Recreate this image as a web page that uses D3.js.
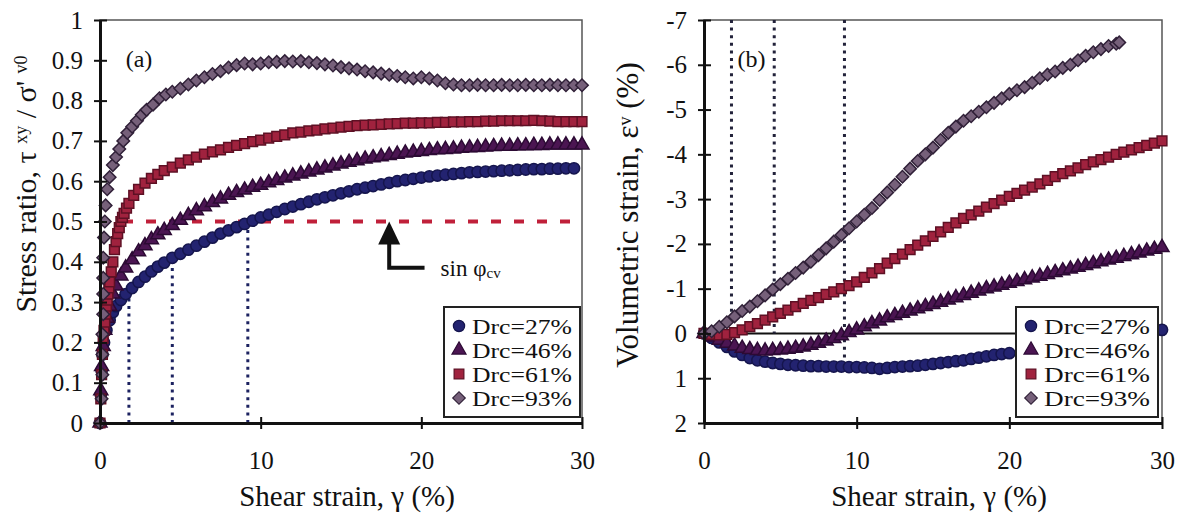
<!DOCTYPE html>
<html>
<head>
<meta charset="utf-8">
<script src="https://cdn.jsdelivr.net/npm/d3@7"></script>
<style>
body { margin: 0; background: #fff; }
text { font-family: "Liberation Serif", "DejaVu Serif", serif; fill: #111; }
</style>
</head>
<body>
<svg id="mainSvg" width="1183" height="513"></svg>
<script>
// ---- data ----
var legendNames = ["Drc=27%", "Drc=46%", "Drc=61%", "Drc=93%"];
var xTicks = [0, 10, 20, 30];
var stressTicks = [0, 0.1, 0.2, 0.3, 0.4, 0.5, 0.6, 0.7, 0.8, 0.9, 1];
var volTicks = [-7, -6, -5, -4, -3, -2, -1, 0, 1, 2];

// (a) stress ratio vs shear strain
var stress27 = [[0,0],[0.05,0.07],[0.1,0.13],[0.15,0.17],[0.25,0.2],[0.4,0.23],[0.6,0.255],[0.8,0.275],[1,0.29],[1.3,0.305],[1.6,0.32],[2,0.335],[2.4,0.35],[2.8,0.363],[3.2,0.376],[3.6,0.388],[4,0.398],[4.5,0.41],[5,0.42],[5.5,0.43],[6,0.44],[6.5,0.45],[7,0.46],[7.5,0.47],[8,0.478],[8.5,0.486],[9,0.494],[9.5,0.502],[10,0.51],[10.5,0.517],[11,0.524],[11.5,0.531],[12,0.537],[12.5,0.543],[13,0.549],[13.5,0.555],[14,0.56],[14.5,0.565],[15,0.57],[15.5,0.575],[16,0.58],[16.5,0.584],[17,0.588],[17.5,0.592],[18,0.596],[18.5,0.6],[19,0.603],[19.5,0.606],[20,0.609],[20.5,0.612],[21,0.614],[21.5,0.616],[22,0.618],[22.5,0.62],[23,0.622],[23.5,0.623],[24,0.624],[24.5,0.625],[25,0.626],[25.5,0.627],[26,0.628],[26.5,0.629],[27,0.63],[27.5,0.63],[28,0.631],[28.5,0.631],[29,0.632],[29.5,0.632]];
var stress46 = [[0,0],[0.05,0.08],[0.1,0.14],[0.2,0.19],[0.3,0.23],[0.45,0.26],[0.6,0.29],[0.8,0.32],[1,0.34],[1.3,0.365],[1.6,0.385],[2,0.405],[2.4,0.425],[2.8,0.44],[3.2,0.455],[3.6,0.467],[4,0.478],[4.5,0.49],[5,0.503],[5.5,0.515],[6,0.527],[6.5,0.537],[7,0.547],[7.5,0.556],[8,0.565],[8.5,0.572],[9,0.578],[9.5,0.585],[10,0.59],[10.5,0.596],[11,0.602],[11.5,0.608],[12,0.613],[12.5,0.618],[13,0.623],[13.5,0.628],[14,0.633],[14.5,0.638],[15,0.643],[15.5,0.647],[16,0.651],[16.5,0.655],[17,0.658],[17.5,0.661],[18,0.664],[18.5,0.667],[19,0.67],[19.5,0.672],[20,0.674],[20.5,0.676],[21,0.678],[21.5,0.679],[22,0.68],[22.5,0.682],[23,0.683],[23.5,0.684],[24,0.685],[24.5,0.686],[25,0.687],[25.5,0.687],[26,0.688],[26.5,0.688],[27,0.689],[27.5,0.689],[28,0.69],[28.5,0.69],[29,0.69],[29.5,0.69],[30,0.69]];
var stress61 = [[0,0],[0.05,0.06],[0.1,0.12],[0.15,0.17],[0.2,0.21],[0.25,0.23],[0.3,0.25],[0.35,0.27],[0.4,0.29],[0.45,0.305],[0.5,0.32],[0.55,0.335],[0.6,0.35],[0.7,0.375],[0.8,0.4],[0.9,0.43],[1,0.45],[1.1,0.47],[1.2,0.485],[1.3,0.5],[1.4,0.51],[1.5,0.52],[1.65,0.533],[1.8,0.545],[2.1,0.565],[2.4,0.58],[2.8,0.595],[3.2,0.607],[3.6,0.617],[4,0.626],[4.5,0.635],[5,0.645],[5.5,0.653],[6,0.66],[6.5,0.667],[7,0.673],[7.5,0.678],[8,0.684],[8.5,0.689],[9,0.693],[9.5,0.698],[10,0.702],[10.5,0.707],[11,0.711],[11.5,0.715],[12,0.72],[12.5,0.722],[13,0.725],[13.5,0.727],[14,0.73],[14.5,0.732],[15,0.734],[15.5,0.736],[16,0.738],[16.5,0.739],[17,0.74],[17.5,0.741],[18,0.742],[18.5,0.743],[19,0.744],[19.5,0.744],[20,0.745],[20.5,0.745],[21,0.746],[21.5,0.746],[22,0.747],[22.5,0.747],[23,0.748],[23.5,0.748],[24,0.749],[24.5,0.749],[25,0.75],[25.5,0.75],[26,0.75],[26.5,0.75],[27,0.751],[27.5,0.75],[28,0.749],[28.5,0.748],[29,0.748],[29.5,0.748],[30,0.748]];
var stress93 = [[0,0],[0.1,0.06],[0.15,0.12],[0.15,0.17],[0.15,0.22],[0.2,0.27],[0.2,0.32],[0.2,0.36],[0.2,0.41],[0.25,0.46],[0.3,0.5],[0.35,0.54],[0.45,0.58],[0.6,0.61],[0.8,0.64],[1,0.66],[1.2,0.68],[1.45,0.7],[1.7,0.72],[2,0.735],[2.3,0.75],[2.6,0.765],[2.9,0.777],[3.3,0.79],[3.7,0.806],[4.1,0.815],[4.5,0.822],[5,0.83],[5.5,0.84],[6,0.85],[6.5,0.858],[7,0.866],[7.5,0.873],[8,0.882],[8.5,0.888],[9,0.892],[9.5,0.89],[10,0.892],[10.5,0.895],[11,0.896],[11.5,0.898],[12,0.897],[12.5,0.898],[13,0.895],[13.5,0.893],[14,0.89],[14.5,0.887],[15,0.883],[15.5,0.88],[16,0.877],[16.5,0.873],[17,0.87],[17.5,0.867],[18,0.864],[18.5,0.861],[19,0.858],[19.5,0.855],[20,0.858],[20.5,0.855],[21,0.85],[21.5,0.843],[22,0.84],[22.5,0.838],[23,0.838],[23.5,0.839],[24,0.838],[24.5,0.838],[25,0.839],[25.5,0.838],[26,0.838],[26.5,0.839],[27,0.838],[27.5,0.838],[28,0.839],[28.5,0.838],[29,0.838],[29.5,0.838],[30,0.838]];

// (b) volumetric strain vs shear strain
var vol27 = [[0,0],[0.5,0.1],[1,0.2],[1.5,0.3],[2,0.4],[2.5,0.48],[3,0.55],[3.5,0.6],[4,0.63],[4.5,0.66],[5,0.68],[5.5,0.7],[6,0.71],[6.5,0.72],[7,0.73],[7.5,0.73],[8,0.74],[8.5,0.74],[9,0.74],[9.5,0.75],[10,0.75],[10.5,0.76],[11,0.77],[11.5,0.79],[12,0.77],[12.5,0.75],[13,0.74],[13.5,0.73],[14,0.72],[14.5,0.7],[15,0.68],[15.5,0.66],[16,0.64],[16.5,0.62],[17,0.6],[17.5,0.57],[18,0.54],[18.5,0.51],[19,0.48],[19.5,0.46],[20,0.44],[21,0.4],[22,0.36],[23,0.32],[24,0.28],[25,0.24],[26,0.2],[27,0.15],[28,0.1],[29,0.02],[30,-0.08]];
var vol46 = [[0,0],[0.5,0.08],[1,0.15],[1.5,0.22],[2,0.28],[2.5,0.33],[3,0.36],[3.5,0.38],[4,0.39],[4.5,0.38],[5,0.37],[5.5,0.35],[6,0.33],[6.5,0.3],[7,0.26],[7.5,0.22],[8,0.17],[8.5,0.11],[9,0.05],[9.5,-0.02],[10,-0.08],[10.5,-0.15],[11,-0.22],[11.5,-0.28],[12,-0.35],[12.5,-0.4],[13,-0.45],[13.5,-0.5],[14,-0.55],[14.5,-0.6],[15,-0.65],[15.5,-0.7],[16,-0.75],[16.5,-0.8],[17,-0.85],[17.5,-0.9],[18,-0.95],[18.5,-1],[19,-1.04],[19.5,-1.08],[20,-1.12],[20.5,-1.16],[21,-1.2],[21.5,-1.24],[22,-1.28],[22.5,-1.32],[23,-1.36],[23.5,-1.4],[24,-1.44],[24.5,-1.48],[25,-1.52],[25.5,-1.56],[26,-1.6],[26.5,-1.64],[27,-1.68],[27.5,-1.72],[28,-1.76],[28.5,-1.8],[29,-1.84],[29.5,-1.88],[30,-1.92]];
var vol61 = [[0,0],[0.5,0.02],[1,0.03],[1.5,0.02],[2,-0.02],[2.5,-0.08],[3,-0.15],[3.5,-0.22],[4,-0.3],[4.5,-0.37],[5,-0.45],[5.5,-0.52],[6,-0.6],[6.5,-0.67],[7,-0.74],[7.5,-0.8],[8,-0.87],[8.5,-0.93],[9,-1],[9.5,-1.07],[10,-1.15],[10.5,-1.25],[11,-1.35],[11.5,-1.45],[12,-1.57],[12.5,-1.67],[13,-1.77],[13.5,-1.87],[14,-1.97],[14.5,-2.07],[15,-2.17],[15.5,-2.27],[16,-2.37],[16.5,-2.47],[17,-2.57],[17.5,-2.65],[18,-2.73],[18.5,-2.82],[19,-2.9],[19.5,-2.98],[20,-3.06],[20.5,-3.13],[21,-3.2],[21.5,-3.27],[22,-3.34],[22.5,-3.42],[23,-3.5],[23.5,-3.57],[24,-3.63],[24.5,-3.7],[25,-3.77],[25.5,-3.83],[26,-3.88],[26.5,-3.94],[27,-4],[27.5,-4.05],[28,-4.1],[28.5,-4.15],[29,-4.2],[29.5,-4.25],[30,-4.3]];
var vol93 = [[0,0],[0.5,-0.05],[1,-0.15],[1.5,-0.25],[2,-0.38],[2.5,-0.5],[3,-0.6],[3.5,-0.72],[4,-0.85],[4.5,-0.98],[5,-1.1],[5.5,-1.22],[6,-1.35],[6.5,-1.47],[7,-1.6],[7.5,-1.75],[8,-1.9],[8.5,-2.05],[9,-2.2],[9.5,-2.35],[10,-2.5],[10.5,-2.65],[11,-2.8],[11.5,-2.98],[12,-3.15],[12.5,-3.32],[13,-3.5],[13.5,-3.68],[14,-3.85],[14.5,-4],[15,-4.15],[15.5,-4.32],[16,-4.48],[16.5,-4.62],[17,-4.75],[17.5,-4.85],[18,-4.95],[18.5,-5.05],[19,-5.15],[19.5,-5.25],[20,-5.35],[20.5,-5.43],[21,-5.5],[21.5,-5.6],[22,-5.7],[22.5,-5.78],[23,-5.85],[23.5,-5.93],[24,-6],[24.5,-6.1],[25,-6.2],[25.5,-6.28],[26,-6.35],[26.5,-6.42],[27,-6.47],[27.2,-6.5]];

// guide lines: [strain, from, to]
var dottedA = [[1.8, 0, 0.32], [4.5, 0, 0.41], [9.2, 0, 0.5]];
var dottedB = [[1.8, -7, -0.3], [4.6, -7, 0], [9.2, -7, 0.55]];
var sinPhiCv = 0.5;

var shapes = [d3.symbolCircle, d3.symbolTriangle, d3.symbolSquare, d3.symbolSquare];
var symSizes = [100, 85, 95, 78];
var rotations = [0, 0, 0, 45];
var fills = ["#232370", "#4b1552", "#a0223e", "#76607a"];
var strokes = ["#15154d", "#2c0a34", "#5e1024", "#302038"];

var mainSvg = d3.select("#mainSvg");

function drawPanel(opt)
{
	var g = mainSvg.append("g");
	var x = opt.x, y = opt.y;
	var x0 = x.range()[0], x1 = x.range()[1];
	var yTop = Math.min(y.range()[0], y.range()[1]);
	var yBot = Math.max(y.range()[0], y.range()[1]);
	// frame
	g.append("rect").attr("x", x0).attr("y", yTop).attr("width", x1 - x0).attr("height", yBot - yTop)
		.attr("fill", "none").attr("stroke", "#555").attr("stroke-width", 1.5);
	opt.under(g);
	// series
	opt.series.forEach(function(s, i) {
		g.append("g").selectAll("path").data(s).enter().append("path")
			.attr("d", d3.symbol().type(shapes[i]).size(symSizes[i]))
			.attr("transform", function(d) { return "translate(" + x(d[0]) + "," + y(d[1]) + ") rotate(" + rotations[i] + ")"; })
			.attr("fill", fills[i]).attr("stroke", strokes[i]).attr("stroke-width", 1.5);
	});
	// axes
	var ax = g.append("g").attr("transform", "translate(0," + yBot + ")")
		.call(d3.axisBottom(x).tickValues(xTicks).tickSize(6).tickSizeOuter(0).tickPadding(22).tickFormat(function(d) { return String(d); }));
	var ay = g.append("g").attr("transform", "translate(" + x0 + ",0)")
		.call(d3.axisLeft(y).tickValues(opt.yTicks).tickSize(6).tickSizeOuter(0).tickPadding(11).tickFormat(function(d) { return String(d); }));
	ax.select(".domain").attr("stroke", "#111").attr("stroke-width", 3);
	ay.select(".domain").attr("stroke", "#111").attr("stroke-width", 3);
	ax.selectAll(".tick line").attr("y1", -6).attr("y2", 6).attr("stroke", "#111").attr("stroke-width", 2);
	ay.selectAll(".tick line").attr("x1", -6).attr("x2", 7).attr("stroke", "#111").attr("stroke-width", 2);
	ax.selectAll("text").attr("font-size", 25).attr("font-family", "Liberation Serif").attr("fill", "#111");
	ay.selectAll("text").attr("font-size", 25).attr("font-family", "Liberation Serif").attr("fill", "#111");
	// x title
	g.append("text").attr("x", (x0 + x1) / 2 + 6).attr("y", 506).attr("text-anchor", "middle")
		.attr("font-size", 29).text("Shear strain, \u03b3 (%)");
	// legend
	var lg = g.append("g").attr("transform", "translate(" + opt.legendX + ",307)");
	lg.append("rect").attr("width", opt.legendW).attr("height", 110).attr("fill", "#fff")
		.attr("stroke", "#222").attr("stroke-width", 2);
	legendNames.forEach(function(n, i) {
		lg.append("path").attr("d", d3.symbol().type(shapes[i]).size(symSizes[i]))
			.attr("transform", "translate(15," + (19 + i * 24) + ") rotate(" + rotations[i] + ")")
			.attr("fill", fills[i]).attr("stroke", strokes[i]).attr("stroke-width", 1.2);
		lg.append("text").attr("x", 28).attr("y", 26.5 + i * 24).attr("font-size", 21)
			.attr("textLength", opt.legendW - 36).attr("lengthAdjust", "spacingAndGlyphs").text(n);
	});
	return g;
}

// ---- panel (a) ----
var xA = d3.scaleLinear().domain([0, 30]).range([100, 582]);
var yA = d3.scaleLinear().domain([0, 1]).range([423, 20]);
var gA = drawPanel({
	x: xA, y: yA, yTicks: stressTicks, legendX: 444, legendW: 136,
	series: [stress27, stress46, stress61, stress93],
	under: function(g) {
		g.append("line").attr("x1", xA(0)).attr("x2", xA(30)).attr("y1", yA(sinPhiCv)).attr("y2", yA(sinPhiCv))
			.attr("stroke", "#c0203a").attr("stroke-width", 4).attr("stroke-dasharray", "10,13");
		g.selectAll(".dotA").data(dottedA).enter().append("line")
			.attr("x1", function(d) { return xA(d[0]); }).attr("x2", function(d) { return xA(d[0]); })
			.attr("y1", function(d) { return yA(d[1]); }).attr("y2", function(d) { return yA(d[2]); })
			.attr("stroke", "#1c2260").attr("stroke-width", 3).attr("stroke-dasharray", "3,4.6");
	}
});
gA.append("text").attr("x", xA(1.6)).attr("y", yA(0.883)).attr("font-size", 24).text("(a)");
// sin phi_cv arrow
var ax18 = xA(18), tipY = yA(sinPhiCv);
gA.append("path").attr("d", "M" + ax18 + "," + tipY + "L" + (ax18 - 11) + "," + (tipY + 23) + "L" + (ax18 + 11) + "," + (tipY + 23) + "Z").attr("fill", "#111");
gA.append("path").attr("d", "M" + ax18 + "," + (tipY + 20) + "V" + yA(0.385) + "H" + xA(20.2))
	.attr("fill", "none").attr("stroke", "#111").attr("stroke-width", 4);
var sinT = gA.append("text").attr("x", xA(21.2)).attr("y", yA(0.365)).attr("font-size", 23);
sinT.append("tspan").text("sin \u03c6");
sinT.append("tspan").attr("font-size", 15).attr("dy", 2).text("cv");
// y title (a)
var tA = gA.append("text").attr("transform", "translate(36,184) rotate(-90)").attr("text-anchor", "middle").attr("font-size", 30);
tA.append("tspan").text("Stress ratio, \u03c4 ");
tA.append("tspan").attr("font-size", 18).attr("dy", -9).text("xy");
tA.append("tspan").attr("dy", 9).text(" / \u03c3' ");
tA.append("tspan").attr("font-size", 18).attr("dy", -9).text("v0");

// ---- panel (b) ----
var xB = d3.scaleLinear().domain([0, 30]).range([704, 1162]);
var yB = d3.scaleLinear().domain([-7, 2]).range([20, 423]);
var gB = drawPanel({
	x: xB, y: yB, yTicks: volTicks, legendX: 1016, legendW: 142,
	series: [vol27, vol46, vol61, vol93],
	under: function(g) {
		g.append("line").attr("x1", xB(0)).attr("x2", xB(30)).attr("y1", yB(0)).attr("y2", yB(0))
			.attr("stroke", "#111").attr("stroke-width", 2);
		g.selectAll(".dotB").data(dottedB).enter().append("line")
			.attr("x1", function(d) { return xB(d[0]); }).attr("x2", function(d) { return xB(d[0]); })
			.attr("y1", function(d) { return yB(d[1]); }).attr("y2", function(d) { return yB(d[2]); })
			.attr("stroke", "#22223a").attr("stroke-width", 3).attr("stroke-dasharray", "3,4.6");
	}
});
gB.append("text").attr("x", xB(2.2)).attr("y", yB(-5.95)).attr("font-size", 24).text("(b)");
var tB = gB.append("text").attr("transform", "translate(638,215) rotate(-90)").attr("text-anchor", "middle").attr("font-size", 31);
tB.append("tspan").text("Volumetric strain, \u03b5");
tB.append("tspan").attr("font-size", 18).attr("dy", -7).text("v");
tB.append("tspan").attr("dy", 7).text(" (%)");
</script>
</body>
</html>
